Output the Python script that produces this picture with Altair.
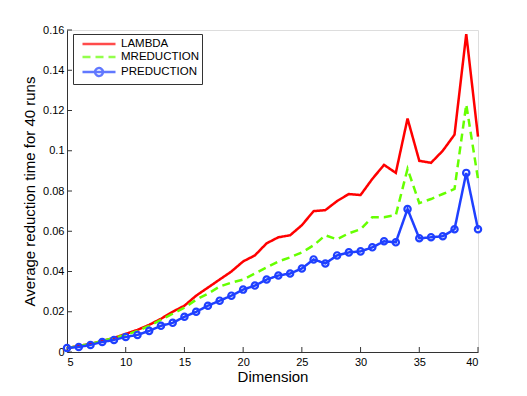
import altair as alt
import pandas as pd

dims = list(range(5, 41))
lambda_t = [0.002, 0.003, 0.004, 0.0055, 0.007, 0.009, 0.011, 0.0135, 0.0165, 0.02,
            0.023, 0.028, 0.032, 0.036, 0.040, 0.045, 0.048, 0.054, 0.057, 0.058,
            0.063, 0.070, 0.0705, 0.075, 0.0785, 0.078, 0.086, 0.093, 0.089, 0.116,
            0.095, 0.094, 0.100, 0.108, 0.158, 0.107]
mred_t = [0.002, 0.003, 0.004, 0.0055, 0.007, 0.0085, 0.0105, 0.013, 0.016, 0.019,
          0.022, 0.026, 0.029, 0.0325, 0.0345, 0.036, 0.039, 0.042, 0.045, 0.047,
          0.0495, 0.053, 0.058, 0.056, 0.059, 0.061, 0.067, 0.067, 0.068, 0.091,
          0.074, 0.076, 0.0785, 0.081, 0.123, 0.086]
pred_t = [0.002, 0.0025, 0.0035, 0.005, 0.006, 0.0075, 0.0085, 0.0105, 0.013, 0.0145,
          0.0175, 0.020, 0.023, 0.0255, 0.028, 0.031, 0.033, 0.036, 0.038, 0.039,
          0.0415, 0.046, 0.044, 0.048, 0.0495, 0.050, 0.052, 0.055, 0.0545, 0.071,
          0.0565, 0.057, 0.0575, 0.061, 0.089, 0.061]

series_names = ["LAMBDA", "MREDUCTION", "PREDUCTION"]
colors = ["#FF0000", "#66FF00", "#1F40FF"]
dashes = [[1, 0], [8, 5], [1, 0]]
legend_shapes = [
    "M-3,0L3,0",
    "M-3,0L3,0",
    "M-3,0L3,0M-0.72,0A0.72,0.72 0 1,0 0.72,0A0.72,0.72 0 1,0 -0.72,0",
]
x_ticks = [5, 10, 15, 20, 25, 30, 35, 40]
y_ticks = [0, 0.02, 0.04, 0.06, 0.08, 0.1, 0.12, 0.14, 0.16]

rows = []
for name, vals in zip(series_names, [lambda_t, mred_t, pred_t]):
    for d, v in zip(dims, vals):
        rows.append({"dim": d, "time": v, "series": name})
df = pd.DataFrame(rows)

W, H = 411, 322
FONT = "Liberation Sans"

xs = alt.Scale(domain=[5, 40], nice=False, zero=False)
ys = alt.Scale(domain=[0, 0.16], nice=False, zero=False)

x_axis = alt.Axis(values=x_ticks, ticks=False, grid=False, labelFontSize=11,
                  labelPadding=4, titleFontSize=15, titleFontWeight="normal",
                  titlePadding=2, title="Dimension", domainColor="#333",
                  labelColor="black", titleColor="black", labelFont=FONT, titleFont=FONT)
y_axis = alt.Axis(values=y_ticks, ticks=False, grid=False, format="~g", labelFontSize=11,
                  labelPadding=3, titleFontSize=15, titleFontWeight="normal",
                  titlePadding=5, title="Average reduction time for 40 runs",
                  domainColor="#333", labelColor="black", titleColor="black",
                  labelFont=FONT, titleFont=FONT)


def xe(field):
    return alt.X(field, type="quantitative", scale=xs, axis=x_axis, title="Dimension")


def ye(field):
    return alt.Y(field, type="quantitative", scale=ys, axis=y_axis,
                 title="Average reduction time for 40 runs")


color_scale = alt.Scale(domain=series_names, range=colors)
dash_scale = alt.Scale(domain=series_names, range=dashes)
shape_scale = alt.Scale(domain=series_names, range=legend_shapes)

leg = alt.Legend(title=None, orient="none", legendX=6, legendY=4, fillColor="white",
                 strokeColor="#333", padding=3, symbolOffset=16, labelOffset=15,
                 symbolSize=121, symbolStrokeWidth=2.4, rowPadding=0, labelFontSize=11.5,
                 labelFont=FONT, labelColor="black", cornerRadius=0,
                 symbolFillColor="transparent")

lines = alt.Chart(df).mark_line(strokeWidth=2.5).encode(
    x=xe("dim"), y=ye("time"),
    color=alt.Color("series:N", scale=color_scale, legend=leg),
    strokeDash=alt.StrokeDash("series:N", scale=dash_scale, legend=leg),
)

points = alt.Chart(df).transform_filter(alt.datum.series == "PREDUCTION").mark_point(
    filled=False, size=40, strokeWidth=2.2, color=colors[2], opacity=1
).encode(x=xe("dim"), y=ye("time"))

legend_layer = alt.Chart(df).transform_filter(alt.datum.series == "__none__").mark_point(
    filled=False, strokeWidth=2.4
).encode(
    color=alt.Color("series:N", scale=color_scale, legend=leg),
    strokeDash=alt.StrokeDash("series:N", scale=dash_scale, legend=leg),
    shape=alt.Shape("series:N", scale=shape_scale, legend=leg),
)

xt = alt.Chart(pd.DataFrame({"t": x_ticks})).mark_rule(color="#333").encode(
    x=xe("t"), y=alt.value(H), y2=alt.value(H - 5))
yt = alt.Chart(pd.DataFrame({"t": y_ticks})).mark_rule(color="#333").encode(
    y=ye("t"), x=alt.value(0), x2=alt.value(5))

chart = alt.layer(xt, yt, lines, points, legend_layer).properties(
    width=W, height=H,
    autosize=alt.AutoSizeParams(type="none"),
    padding={"left": 59, "top": 22, "right": 30, "bottom": 34},
).configure_view(stroke=None).configure(background="white")

chart.save("out.html", embed_options={"renderer": "svg", "actions": False})
